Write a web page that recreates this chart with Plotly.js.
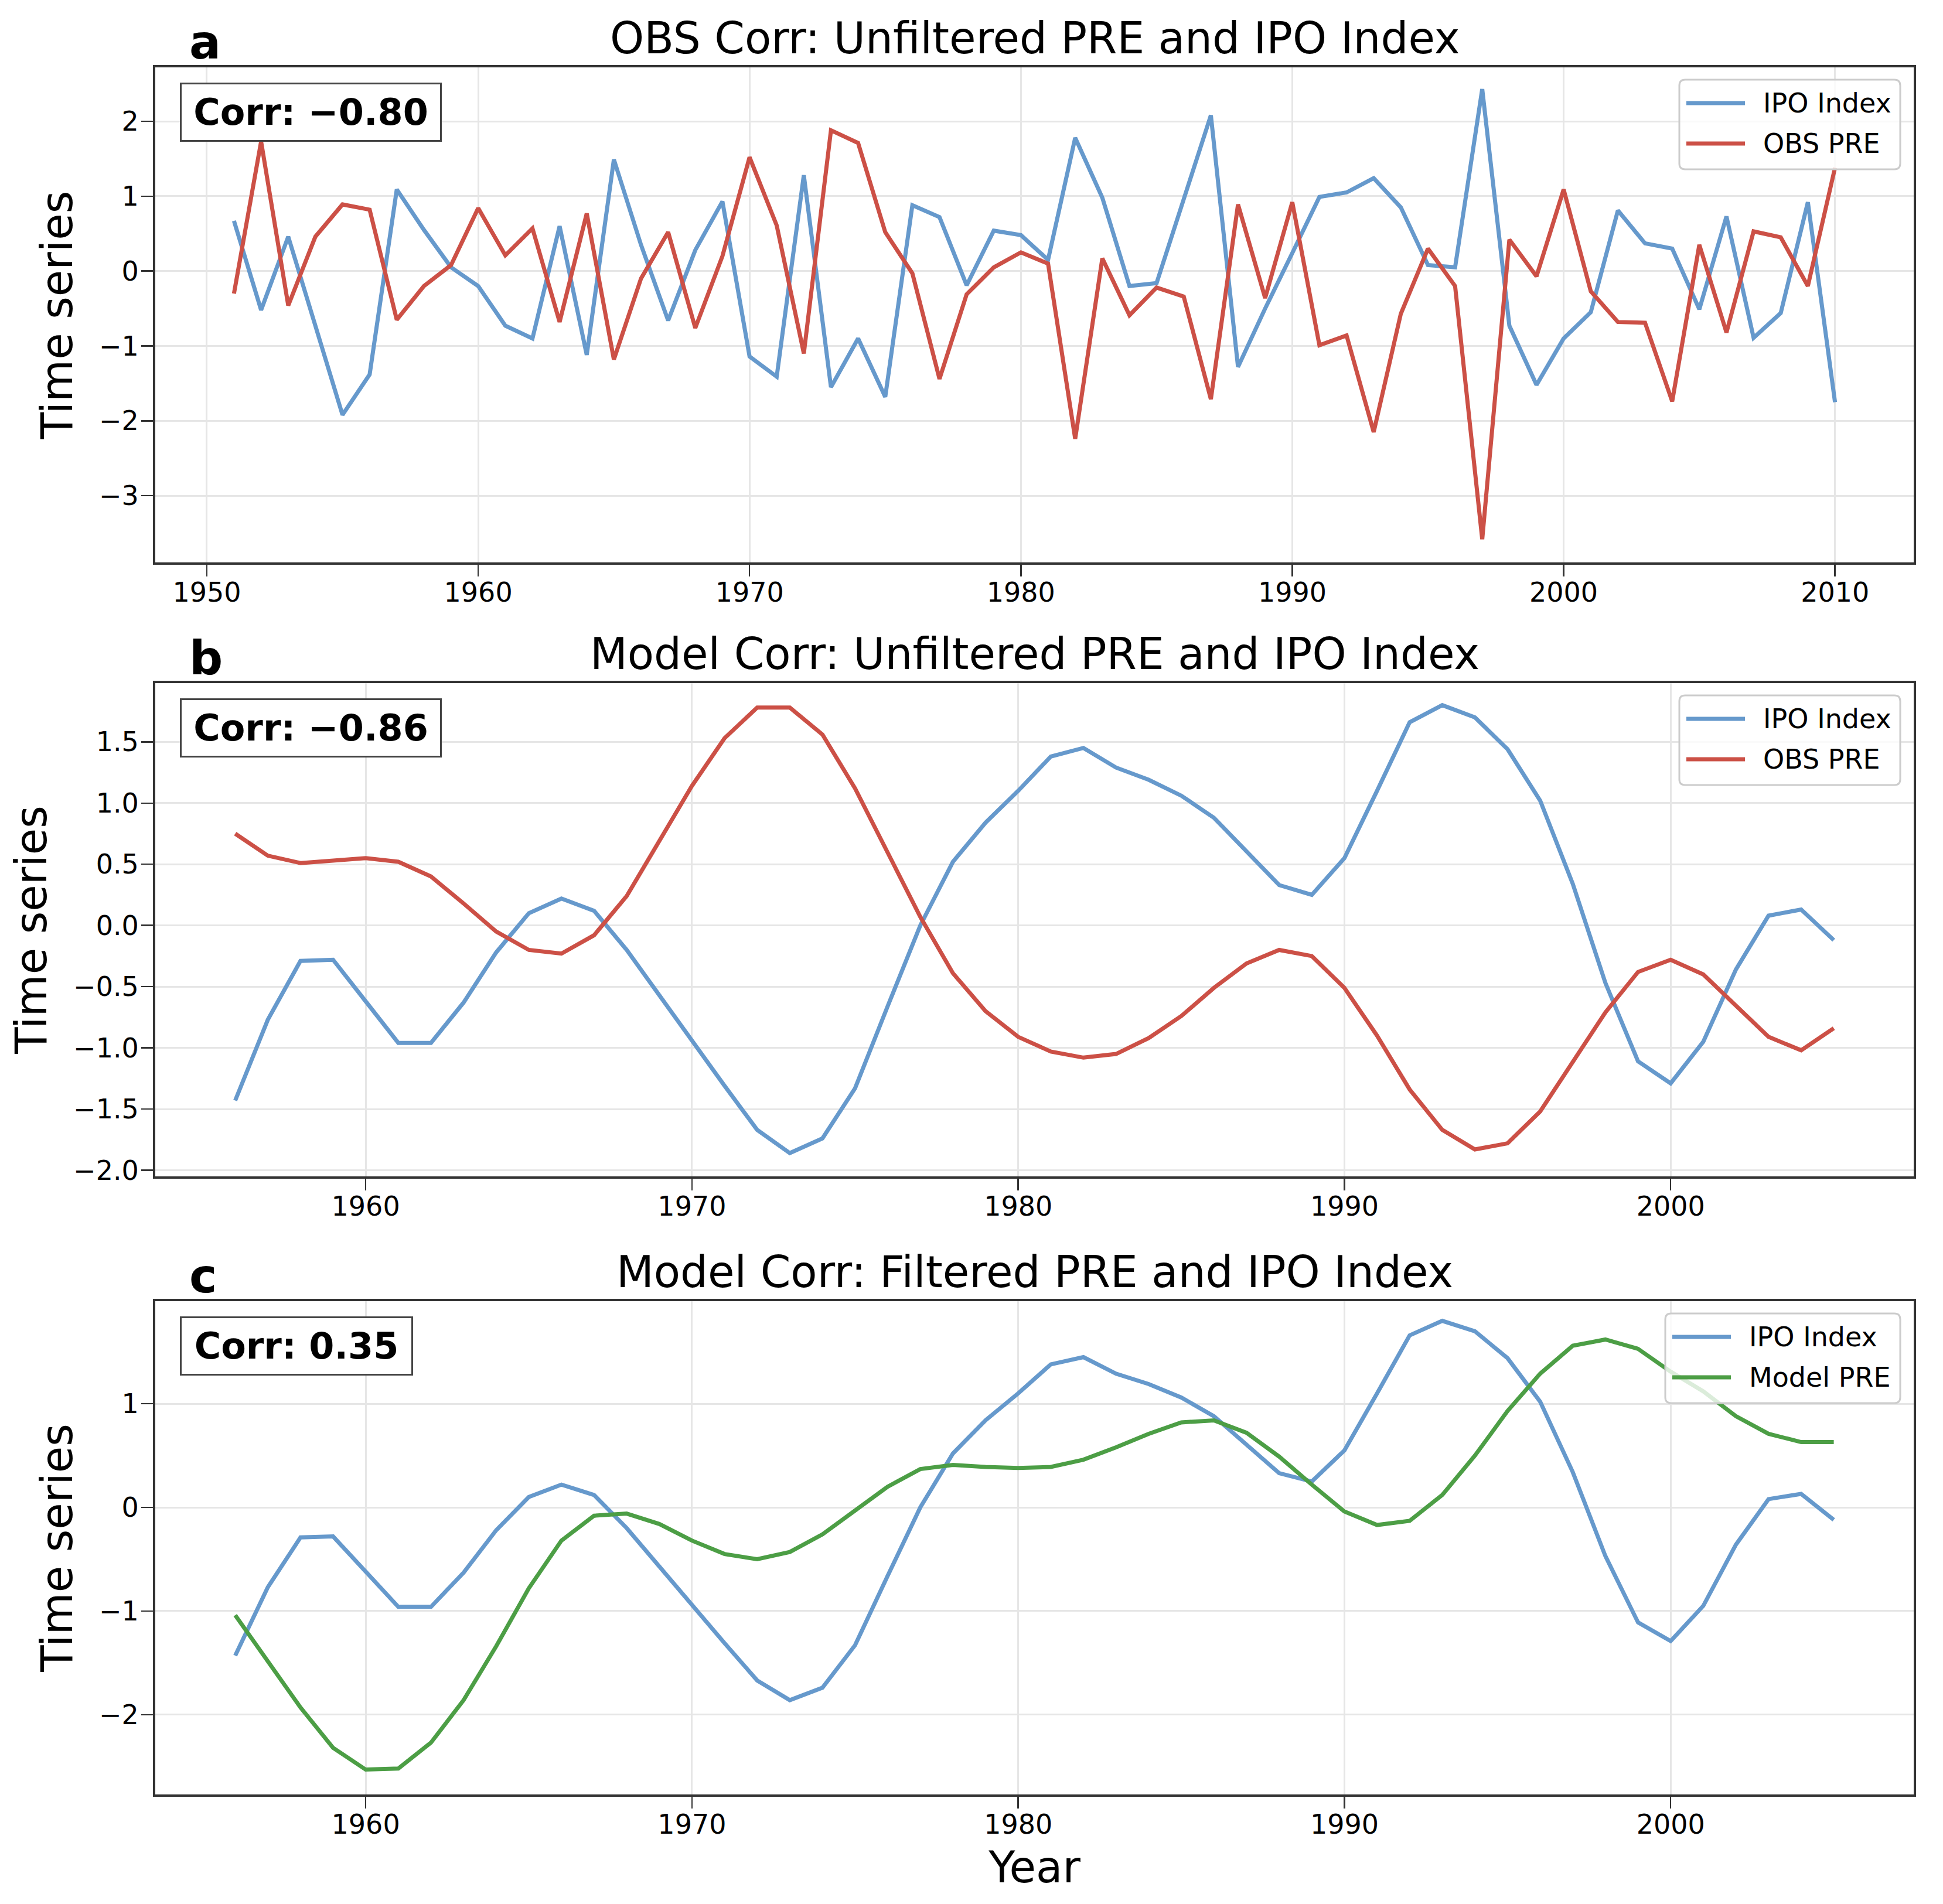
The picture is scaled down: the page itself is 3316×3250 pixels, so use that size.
<!DOCTYPE html>
<html>
<head>
<meta charset="utf-8">
<script src="https://cdn.plot.ly/plotly-3.0.1.min.js"></script>
<style>
  html, body { margin: 0; padding: 0; background: #ffffff; }
  #chart { width: 3316px; height: 3250px; }
</style>
</head>
<body>
<div id="chart"></div>
<script>
// ---- observed series, 1951-2010 ----
const obsYears = [1951,1952,1953,1954,1955,1956,1957,1958,1959,1960,
                  1961,1962,1963,1964,1965,1966,1967,1968,1969,1970,
                  1971,1972,1973,1974,1975,1976,1977,1978,1979,1980,
                  1981,1982,1983,1984,1985,1986,1987,1988,1989,1990,
                  1991,1992,1993,1994,1995,1996,1997,1998,1999,2000,
                  2001,2002,2003,2004,2005,2006,2007,2008,2009,2010];
const obsIpo = [0.67,-0.52,0.46,-0.75,-1.92,-1.38,1.09,0.55,0.05,-0.20,
                -0.73,-0.90,0.60,-1.12,1.49,0.35,-0.66,0.28,0.93,-1.14,
                -1.41,1.28,-1.55,-0.90,-1.68,0.88,0.72,-0.19,0.54,0.48,
                0.15,1.78,0.98,-0.20,-0.16,0.96,2.08,-1.28,-0.50,0.24,
                0.99,1.05,1.24,0.85,0.08,0.05,2.43,-0.73,-1.52,-0.90,
                -0.55,0.81,0.37,0.30,-0.51,0.73,-0.89,-0.56,0.92,-1.75];
const obsPre = [-0.30,1.73,-0.46,0.46,0.89,0.82,-0.65,-0.20,0.08,0.84,
                0.21,0.57,-0.68,0.77,-1.18,-0.10,0.52,-0.76,0.20,1.52,
                0.61,-1.10,1.88,1.71,0.52,-0.03,-1.44,-0.31,0.05,0.25,
                0.10,-2.24,0.17,-0.59,-0.22,-0.34,-1.71,0.89,-0.36,0.92,
                -0.99,-0.86,-2.15,-0.57,0.30,-0.20,-3.58,0.42,-0.07,1.09,
                -0.27,-0.68,-0.69,-1.74,0.35,-0.82,0.53,0.45,-0.20,1.38];

// ---- model series, 1956-2005 ----
const modelYears = [1956,1957,1958,1959,1960,1961,1962,1963,1964,1965,
                    1966,1967,1968,1969,1970,1971,1972,1973,1974,1975,
                    1976,1977,1978,1979,1980,1981,1982,1983,1984,1985,
                    1986,1987,1988,1989,1990,1991,1992,1993,1994,1995,
                    1996,1997,1998,1999,2000,2001,2002,2003,2004,2005];
const modelIpo = [-1.43,-0.77,-0.29,-0.28,-0.62,-0.96,-0.96,-0.63,-0.22,0.10,
                  0.22,0.12,-0.20,-0.57,-0.95,-1.31,-1.67,-1.86,-1.74,-1.33,
                  -0.66,0.00,0.52,0.84,1.10,1.38,1.45,1.29,1.19,1.06,
                  0.88,0.61,0.33,0.25,0.55,1.10,1.66,1.80,1.70,1.44,
                  1.02,0.34,-0.47,-1.11,-1.29,-0.95,-0.36,0.08,0.13,-0.12];
const modelPreUnfiltered = [0.75,0.57,0.51,0.53,0.55,0.52,0.40,0.18,-0.05,-0.20,
                            -0.23,-0.08,0.24,0.69,1.14,1.53,1.78,1.78,1.56,1.12,
                            0.60,0.07,-0.39,-0.70,-0.91,-1.03,-1.08,-1.05,-0.92,-0.74,
                            -0.51,-0.31,-0.20,-0.25,-0.51,-0.90,-1.34,-1.67,-1.83,-1.78,
                            -1.52,-1.11,-0.71,-0.38,-0.28,-0.40,-0.66,-0.91,-1.02,-0.84];
const modelPreFiltered = [-1.04,-1.48,-1.93,-2.32,-2.53,-2.52,-2.27,-1.86,-1.34,-0.78,
                          -0.32,-0.08,-0.06,-0.16,-0.32,-0.45,-0.50,-0.43,-0.26,-0.03,
                          0.20,0.37,0.41,0.39,0.38,0.39,0.46,0.58,0.71,0.82,
                          0.84,0.72,0.49,0.22,-0.04,-0.17,-0.13,0.12,0.50,0.93,
                          1.29,1.56,1.62,1.53,1.31,1.12,0.88,0.71,0.63,0.63];

// ---- text ----
const panelTitles = ['OBS Corr: Unfiltered PRE and IPO Index',
                     'Model Corr: Unfiltered PRE and IPO Index',
                     'Model Corr: Filtered PRE and IPO Index'];
const panelLetters = ['a', 'b', 'c'];
const corrLabels = ['Corr: \u22120.80', 'Corr: \u22120.86', 'Corr: 0.35'];
const legendNames = [['IPO Index', 'OBS PRE'], ['IPO Index', 'OBS PRE'], ['IPO Index', 'Model PRE']];
const yAxisTitle = 'Time series';
const xAxisTitle = 'Year';

// ---- styling ----
const BLUE = '#6699CC', RED = '#CC5046', GREEN = '#4C9E45';
const FONT = 'DejaVu Sans, Verdana, sans-serif';
const W = 3316, H = 3250;
const plotLeft = 265, plotRight = 3266;
const panelPx = [[115, 960], [1166, 2008], [2221, 3063]];   // top, bottom in pixels
const yRanges = [[-3.89, 2.72], [-2.05, 1.98], [-2.77, 1.99]];
const xRanges = [[1948.1, 2012.9], [1953.55, 2007.45], [1953.55, 2007.45]];
const yDticks = [1, 0.5, 1];
const yFormats = ['', '.1f', ''];
const legendWidths = [377, 377, 401];
const corrWidths = [447, 447, 398];

const panelSeries = [
  [{x: obsYears, y: obsIpo, c: BLUE}, {x: obsYears, y: obsPre, c: RED}],
  [{x: modelYears, y: modelIpo, c: BLUE}, {x: modelYears, y: modelPreUnfiltered, c: RED}],
  [{x: modelYears, y: modelIpo, c: BLUE}, {x: modelYears, y: modelPreFiltered, c: GREEN}]
];

const traces = [];
const layout = {
  width: W, height: H,
  margin: {l: 0, r: 0, t: 0, b: 0},
  paper_bgcolor: '#ffffff', plot_bgcolor: '#ffffff',
  showlegend: false,
  font: {family: FONT, color: '#000000'},
  annotations: [], shapes: []
};

const plotW = plotRight - plotLeft;

panelSeries.forEach((series, i) => {
  const sfx = i === 0 ? '' : String(i + 1);
  const top = panelPx[i][0], bottom = panelPx[i][1];
  const plotH = bottom - top;
  const xref = 'x' + sfx + ' domain', yref = 'y' + sfx + ' domain';
  const fx = px => px / plotW;          // pixels from plot left -> domain fraction
  const fy = px => 1 - px / plotH;      // pixels from plot top  -> domain fraction

  series.forEach((s, k) => {
    traces.push({
      type: 'scatter', mode: 'lines', x: s.x, y: s.y,
      name: legendNames[i][k],
      xaxis: 'x' + sfx, yaxis: 'y' + sfx,
      line: {color: s.c, width: 7},
      hoverinfo: 'skip'
    });
  });

  const common = {
    showgrid: true, gridcolor: '#e6e6e6', gridwidth: 3,
    showline: true, mirror: true, linecolor: '#333333', linewidth: 4,
    ticks: 'outside', ticklen: 20, tickwidth: 2.5, tickcolor: '#333333',
    tickfont: {family: FONT, size: 46, color: '#000000'},
    zeroline: false, fixedrange: true
  };
  layout['xaxis' + sfx] = Object.assign({}, common, {
    domain: [plotLeft / W, plotRight / W],
    anchor: 'y' + sfx, range: xRanges[i], tick0: 1950, dtick: 10,
    tickformat: 'd', ticklabelstandoff: -12,
    title: i === 2 ? {text: xAxisTitle, font: {family: FONT, size: 74, color: '#000000'}, standoff: 22} : {text: ''}
  });
  layout['yaxis' + sfx] = Object.assign({}, common, {
    domain: [1 - bottom / H, 1 - top / H],
    anchor: 'x' + sfx, range: yRanges[i], tick0: 0, dtick: yDticks[i],
    tickformat: yFormats[i], ticklabelstandoff: -5,
    title: {text: yAxisTitle, font: {family: FONT, size: 74, color: '#000000'}, standoff: 22}
  });

  // panel title
  layout.annotations.push({
    xref: xref, yref: yref, x: 0.5, y: 1, xanchor: 'center', yanchor: 'bottom',
    yshift: 5, showarrow: false, text: panelTitles[i],
    font: {family: FONT, size: 74, color: '#000000'}
  });
  // panel letter
  layout.annotations.push({
    xref: xref, yref: yref, x: 0, y: 1, xanchor: 'left', yanchor: 'bottom',
    xshift: 56, yshift: -6, showarrow: false, text: '<b>' + panelLetters[i] + '</b>',
    font: {family: FONT, size: 80, color: '#000000'}
  });
  // correlation box
  layout.annotations.push({
    xref: xref, yref: yref, x: fx(42), y: fy(26), xanchor: 'left', yanchor: 'top',
    showarrow: false, text: '<b>' + corrLabels[i] + '</b>',
    width: corrWidths[i] - 26, height: 75, borderpad: 10,
    bordercolor: '#444444', borderwidth: 3, bgcolor: '#ffffff',
    font: {family: FONT, size: 62, color: '#000000'}
  });

  // legend frame (rounded, semi-transparent)
  const bw = legendWidths[i], bh = 153, r = 10;
  const lx0 = plotW - 23 - bw, lx1 = plotW - 23, ly0 = 21, ly1 = 21 + bh;
  const X = v => fx(v).toFixed(6), Y = v => fy(v).toFixed(6);
  const path = 'M' + X(lx0 + r) + ',' + Y(ly0) +
    ' L' + X(lx1 - r) + ',' + Y(ly0) + ' Q' + X(lx1) + ',' + Y(ly0) + ' ' + X(lx1) + ',' + Y(ly0 + r) +
    ' L' + X(lx1) + ',' + Y(ly1 - r) + ' Q' + X(lx1) + ',' + Y(ly1) + ' ' + X(lx1 - r) + ',' + Y(ly1) +
    ' L' + X(lx0 + r) + ',' + Y(ly1) + ' Q' + X(lx0) + ',' + Y(ly1) + ' ' + X(lx0) + ',' + Y(ly1 - r) +
    ' L' + X(lx0) + ',' + Y(ly0 + r) + ' Q' + X(lx0) + ',' + Y(ly0) + ' ' + X(lx0 + r) + ',' + Y(ly0) + ' Z';
  layout.shapes.push({
    type: 'path', xref: xref, yref: yref, path: path, layer: 'above',
    fillcolor: 'rgba(255,255,255,0.8)', line: {color: '#cccccc', width: 3}
  });
  series.forEach((s, k) => {
    const rowY = ly0 + 40 + k * 69;
    layout.shapes.push({
      type: 'line', xref: xref, yref: yref, layer: 'above',
      x0: fx(lx0 + 12), x1: fx(lx0 + 112), y0: fy(rowY), y1: fy(rowY),
      line: {color: s.c, width: 7}
    });
    layout.annotations.push({
      xref: xref, yref: yref, x: fx(lx0 + 141), y: fy(rowY), xanchor: 'left', yanchor: 'middle',
      showarrow: false, text: legendNames[i][k],
      font: {family: FONT, size: 46, color: '#000000'}
    });
  });
});

Plotly.newPlot('chart', traces, layout, {displayModeBar: false, staticPlot: true});
</script>
</body>
</html>
